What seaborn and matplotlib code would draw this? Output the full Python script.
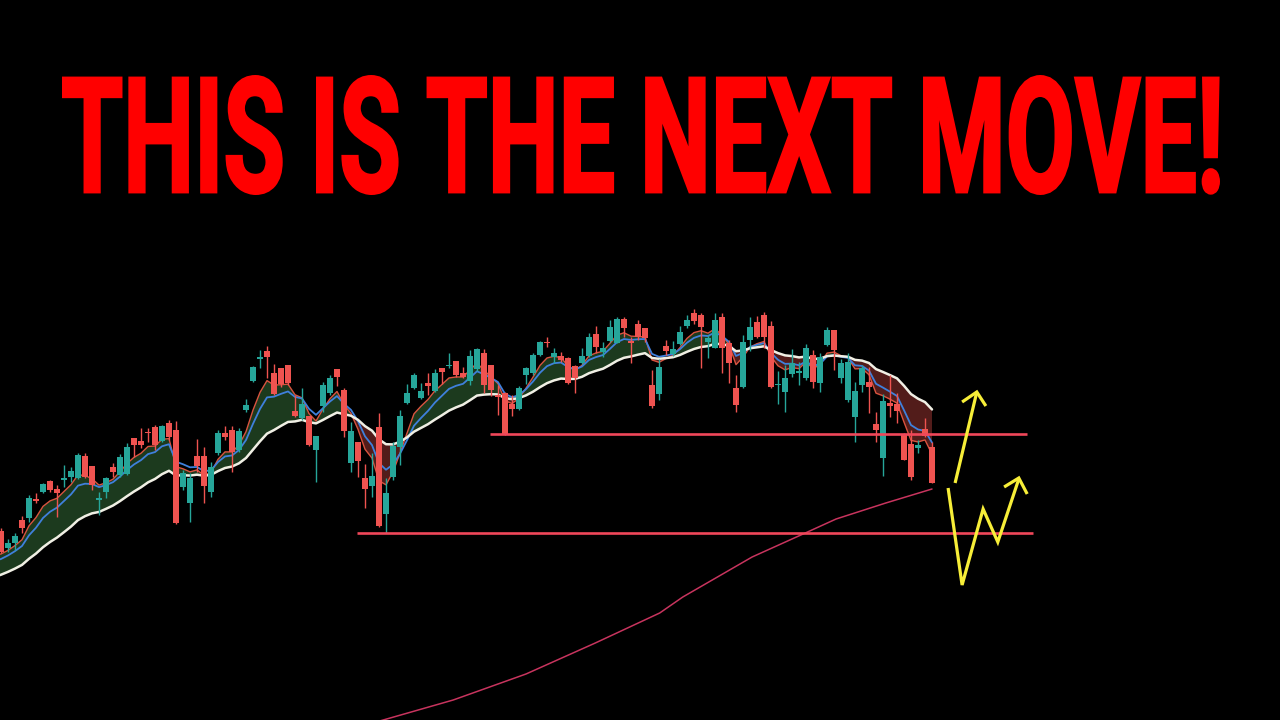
import numpy as np
import pandas as pd
import matplotlib
matplotlib.use("Agg")
import matplotlib.pyplot as plt
import seaborn as sns
from matplotlib import font_manager as fm
from matplotlib.patheffects import AbstractPathEffect
from matplotlib.transforms import Affine2D

# ---------------- data (price levels) ----------------
opens = [189, 172, 177, 200, 202, 221, 228, 239, 231, 240,
         243, 242, 264, 254, 220, 228, 253, 245, 246, 282,
         279, 288, 293, 279, 297, 290, 233, 217, 264, 264,
         228, 267, 287, 290, 270, 310, 339, 361, 369, 347,
         352, 355, 309, 302, 304, 270, 314, 327, 351, 330,
         257, 278, 242, 234, 293, 206, 243, 273, 317, 332,
         322, 337, 329, 352, 354, 359, 347, 339, 351, 367,
         355, 325, 327, 316, 311, 345, 347, 365, 378, 363,
         364, 362, 354, 357, 364, 386, 368, 379, 377, 401,
         379, 396, 392, 335, 326, 374, 366, 376, 394, 407,
         405, 378, 372, 403, 377, 332, 333, 380, 398, 405,
         394, 335, 328, 346, 347, 342, 365, 337, 375, 390,
         342, 320, 303, 335, 338, 296, 262, 317, 316, 286,
         276, 272, 291, 273]
highs = [192, 181, 187, 204, 225, 227, 237, 240, 235, 255,
         253, 267, 267, 254, 228, 243, 257, 266, 277, 282,
         292, 292, 295, 295, 300, 299, 250, 247, 281, 273,
         258, 290, 294, 294, 292, 321, 354, 370, 374, 356,
         352, 355, 325, 332, 304, 284, 338, 345, 351, 332,
         298, 278, 256, 267, 307, 242, 278, 310, 336, 347,
         337, 347, 351, 352, 367, 359, 353, 370, 372, 371,
         355, 335, 328, 325, 334, 353, 367, 379, 383, 372,
         368, 363, 355, 372, 387, 394, 378, 400, 403, 403,
         383, 400, 392, 350, 361, 380, 379, 394, 405, 411,
         407, 385, 407, 407, 380, 345, 385, 403, 404, 408,
         399, 349, 355, 371, 358, 376, 370, 367, 393, 390,
         361, 367, 338, 355, 353, 308, 326, 345, 327, 287,
         290, 280, 302, 278]
lows = [167, 168, 170, 187, 198, 217, 227, 228, 203, 233,
        238, 241, 242, 230, 205, 222, 243, 243, 245, 263,
        272, 278, 270, 278, 280, 196, 230, 198, 248, 217,
        223, 265, 280, 248, 268, 308, 338, 352, 342, 325,
        333, 335, 303, 300, 274, 238, 308, 325, 334, 283,
        248, 243, 212, 223, 193, 187, 240, 255, 316, 331,
        321, 325, 328, 336, 352, 343, 342, 335, 349, 327,
        324, 305, 285, 304, 310, 336, 345, 364, 373, 357,
        358, 336, 327, 356, 363, 367, 363, 378, 377, 383,
        357, 380, 378, 312, 320, 365, 364, 375, 392, 396,
        352, 362, 372, 347, 337, 308, 332, 369, 382, 372,
        332, 316, 308, 343, 335, 340, 332, 328, 374, 350,
        337, 318, 278, 328, 307, 278, 244, 303, 297, 260,
        240, 267, 283, 237]
closes = [168, 177, 184, 192, 222, 219, 236, 230, 227, 242,
          249, 265, 243, 235, 222, 242, 248, 263, 273, 275,
          275, 287, 275, 294, 283, 197, 247, 242, 254, 234,
          253, 287, 283, 268, 289, 315, 353, 363, 363, 326,
          336, 337, 304, 316, 275, 284, 335, 342, 343, 289,
          289, 259, 231, 244, 194, 227, 274, 304, 327, 345,
          329, 334, 347, 348, 355, 345, 343, 364, 371, 335,
          330, 323, 285, 311, 332, 352, 365, 378, 377, 367,
          360, 337, 342, 364, 383, 373, 372, 393, 401, 392,
          377, 383, 382, 314, 353, 369, 371, 388, 400, 399,
          393, 382, 400, 372, 357, 315, 378, 393, 383, 383,
          333, 336, 342, 357, 349, 372, 338, 363, 390, 370,
          357, 358, 329, 352, 333, 290, 319, 314, 309, 260,
          243, 275, 284, 237]

# EMA settings (fast / mid / slow) and their values just before the first candle
ema_spans = [5, 8, 21]
ema_seeds = [165, 159, 143]

# long (200) moving average, read at a few candle positions
ma200_idx = [53.6, 65.6, 76.0, 85.9, 95.1, 98.4, 108.3, 115.9, 120.3, 127.4, 134.0]
ma200_val = [-4, 20, 46, 77, 107, 123, 163, 187, 201, 217, 231]

# horizontal support levels: level, first candle, last candle
support_levels = [286, 187]
support_from = [70.9, 51.9]
support_to = [147.6, 148.4]

# hand-drawn projection arrows (candle position, level)
arrow1_x = [137.3, 140.4]
arrow1_y = [237, 328]
arrow1_head_x = [138.3, 140.4, 141.7]
arrow1_head_y = [318, 328, 314]
arrow2_x = [136.3, 138.3, 141.3, 143.4, 146.4]
arrow2_y = [232, 135, 211, 178, 241]
arrow2_head_x = [144.3, 146.4, 147.6]
arrow2_head_y = [233, 242, 226]

title = "THIS IS THE NEXT MOVE!"

# ---------------- styling ----------------
GREEN = "#26a69a"
RED = "#ef5350"
FILL_UP = "#1c3a1e"
FILL_DN = "#521c1a"
EMA_COLORS = ["#d9533f", "#3f80dc", "#f0efe4"]
EMA_WIDTHS = [1.0, 1.3, 1.8]
MA200_COLOR = "#c8345e"
SUPPORT_COLOR = "#f0475a"
ARROW_COLOR = "#f7ee38"

sns.set_theme(style="dark", rc={"axes.facecolor": "black", "figure.facecolor": "black",
                                "savefig.facecolor": "black"})

fig = plt.figure(figsize=(12.8, 7.2), dpi=100)
ax = fig.add_axes([0, 0, 1, 1])
ax.set_facecolor("black")

n = len(closes)
idx = np.arange(1, n + 1)
o = np.array(opens, float)
c = np.array(closes, float)
h = np.array(highs, float)
l = np.array(lows, float)

# EMAs computed from the closes
ema_x = np.arange(0, n + 1)
emas = []
for span, seed in zip(ema_spans, ema_seeds):
    s = pd.Series([seed] + closes, dtype=float).ewm(span=span, adjust=False).mean().to_numpy()
    emas.append(s)
fast, mid, slow = emas

ax.fill_between(ema_x, fast, slow, where=fast >= slow, interpolate=True,
                color=FILL_UP, linewidth=0, zorder=1)
ax.fill_between(ema_x, fast, slow, where=fast < slow, interpolate=True,
                color=FILL_DN, linewidth=0, zorder=1)

for e, col, lw in zip(emas, EMA_COLORS, EMA_WIDTHS):
    sns.lineplot(x=ema_x, y=e, ax=ax, color=col, linewidth=lw, zorder=2,
                 legend=False, estimator=None, sort=False)

# 200 MA
sns.lineplot(x=ma200_idx, y=ma200_val, ax=ax, color=MA200_COLOR, linewidth=1.1,
             zorder=2, legend=False, estimator=None, sort=False)

# candles
up = c >= o
cols = np.where(up, GREEN, RED)
ax.vlines(idx, l, h, colors=cols, linewidth=1.0, zorder=3)
body_bottom = np.minimum(o, c)
body_h = np.maximum(np.abs(c - o), 1.3)
ax.bar(idx, body_h, bottom=body_bottom, width=0.78, color=cols, edgecolor="none",
       linewidth=0, zorder=4)

# support lines
ax.hlines(support_levels, support_from, support_to, colors=SUPPORT_COLOR,
          linewidth=1.9, zorder=5)

# projection arrows
for xs, ys in [(arrow1_x, arrow1_y), (arrow1_head_x, arrow1_head_y),
               (arrow2_x, arrow2_y), (arrow2_head_x, arrow2_head_y)]:
    ax.plot(xs, ys, color=ARROW_COLOR, linewidth=2.3, solid_joinstyle="miter",
            solid_capstyle="butt", zorder=6)

ax.set_xlim(1 - 1 / 7, 1 + 1279 / 7)
ax.set_ylim(0, 720)
ax.axis("off")


# ---------------- title ----------------
class FitToBox(AbstractPathEffect):
    """Draw the text glyphs (with a thickening stroke) scaled into a box
    given in figure fractions."""

    def __init__(self, figure, box, stroke_px=0.0):
        super().__init__()
        self.figure = figure
        self.box = box
        self.stroke_px = stroke_px

    def draw_path(self, renderer, gc, tpath, affine, rgbFace=None):
        bb = tpath.get_extents(affine)
        (X0, Y0), (X1, Y1) = self.figure.transFigure.transform(
            [(self.box[0], self.box[1]), (self.box[2], self.box[3])])
        half = self.stroke_px / 2.0
        X0 += half; X1 -= half; Y0 += half; Y1 -= half
        fit = (Affine2D().translate(-bb.x0, -bb.y0)
               .scale((X1 - X0) / bb.width, (Y1 - Y0) / bb.height)
               .translate(X0, Y0))
        gc2 = renderer.new_gc()
        gc2.copy_properties(gc)
        if self.stroke_px > 0:
            gc2.set_linewidth(self.stroke_px * 72.0 / self.figure.dpi)
            gc2.set_foreground(rgbFace)
            gc2.set_joinstyle("miter")
        renderer.draw_path(gc2, tpath, affine + fit, rgbFace)
        gc2.restore()


names = {f.name for f in fm.fontManager.ttflist}
family = "DejaVu Sans"
for cand in ["Liberation Sans Narrow", "Roboto", "Liberation Sans", "DejaVu Sans"]:
    if cand in names:
        family = cand
        break

box = (62 / 1280, (720 - 195) / 720, 1220 / 1280, (720 - 75) / 720)
txt = fig.text(0.5, box[1], title, ha="center", va="baseline", color="#ff0000",
               fontsize=80, fontweight="bold", family=family,
               path_effects=[FitToBox(fig, box, stroke_px=2.5)])
fig.canvas.draw()
w = txt.get_window_extent().width
txt.set_fontsize(80 * (1158 / w))

fig.savefig("out.png", dpi=100, facecolor="black")
